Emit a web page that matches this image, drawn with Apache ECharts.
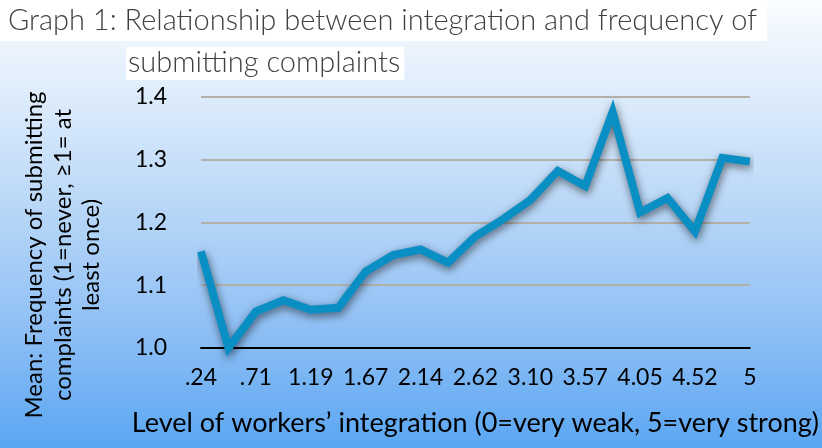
<!DOCTYPE html>
<html>
<head>
<meta charset="utf-8">
<script src="https://cdn.jsdelivr.net/npm/echarts@6/dist/echarts.min.js"></script>
<style>
html,body{margin:0;padding:0;}
#chart{width:822px;height:448px;}
</style>
</head>
<body>
<div id="chart"></div>
<script>
// Category labels (level of workers' integration)
const categories = ['.24','.48','.71','.95','1.19','1.43','1.67','1.90','2.14','2.38','2.62','2.86','3.10','3.33','3.57','3.81','4.05','4.29','4.52','4.76','5'];
// Mean frequency of submitting complaints
const meanValues = [1.154,1.000,1.058,1.076,1.061,1.064,1.122,1.148,1.157,1.136,1.178,1.205,1.236,1.282,1.258,1.376,1.216,1.239,1.186,1.303,1.297];
const yTicks = {min:1.0, max:1.4, interval:0.1};

const titleLine1 = 'Graph 1: Relationship between integration and frequency of';
const titleLine2 = 'submitting complaints';
const xName = 'Level of workers\u2019 integration (0=very weak, 5=very strong)';
const yName = 'Mean: Frequency of submitting\ncomplaints (1=never, \u22651= at\nleast once)';

const chart = echarts.init(document.getElementById('chart'));
const FONT = 'Lato, "Open Sans", sans-serif';
chart.setOption({
  backgroundColor: {
    type:'linear', x:0, y:0, x2:0, y2:1,
    colorStops:[
      {offset:0, color:'#fafcff'},
      {offset:0.25, color:'#d8e9fb'},
      {offset:0.5, color:'#b3d4f7'},
      {offset:0.75, color:'#8cbef5'},
      {offset:1, color:'#5aa6f2'}
    ]
  },
  animation:false,
  title:[
    {text:titleLine1, left:0, top:0, backgroundColor:'#ffffff', padding:[6,10,6,8],
     textStyle:{fontFamily:FONT, fontWeight:300, fontSize:29, color:'#404040'}},
    {text:titleLine2, left:126, top:47, backgroundColor:'#ffffff', padding:[1,4,3,2],
     textStyle:{fontFamily:FONT, fontWeight:300, fontSize:29, color:'#404040'}}
  ],
  grid:{left:201, right:71, top:97, bottom:100},
  xAxis:{
    type:'category', data:categories, boundaryGap:false,
    axisLine:{show:true, lineStyle:{color:'#000', width:2}},
    axisTick:{show:false},
    axisLabel:{interval:1, margin:18, fontFamily:FONT, fontSize:23, color:'#000'},
    splitLine:{show:false},
    name:xName, nameLocation:'middle', nameGap:62,
    nameTextStyle:{fontFamily:FONT, fontSize:27, color:'#000'}
  },
  yAxis:{
    type:'value', min:yTicks.min, max:yTicks.max, interval:yTicks.interval,
    axisLine:{show:false}, axisTick:{show:false},
    axisLabel:{margin:34, fontFamily:FONT, fontSize:23, color:'#000', formatter:v=>v.toFixed(1)},
    splitLine:{show:true, lineStyle:{color:'#b3b0aa', width:2}}
  },
  graphic:[
    {type:'text', x:63, y:255, rotation:Math.PI/2,
     style:{text:yName, font:'24px '+FONT, fill:'#000', align:'center', verticalAlign:'middle', lineHeight:28.5}}
  ],
  series:[{
    type:'line', data:meanValues, symbol:'none', clip:false,
    lineStyle:{color:'#0a8fc4', width:8, join:'miter', miterLimit:4,
      shadowColor:'rgba(0,0,0,0.55)', shadowBlur:8, shadowOffsetX:1, shadowOffsetY:3}
  }]
});
</script>
</body>
</html>
